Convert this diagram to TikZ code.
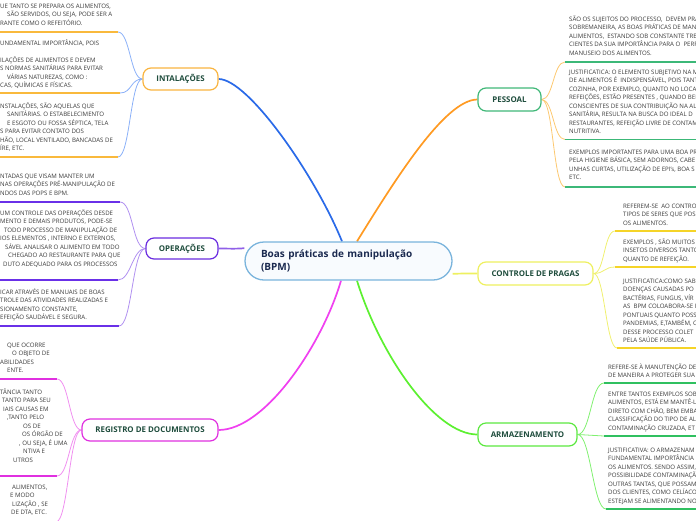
\documentclass[tikz,border=0pt]{standalone}
\usepackage{fontspec}
\setmainfont{Open Sans}
\pgfdeclarelayer{bg}
\pgfsetlayers{bg,main}
\definecolor{leafc}{HTML}{3A3A3A}
\definecolor{topicc}{HTML}{1F4D3D}
\definecolor{centt}{HTML}{1B2A50}
\definecolor{centb}{HTML}{7AB4DC}
\definecolor{centf}{HTML}{F8FBFE}
\definecolor{instb}{HTML}{F9B440}
\definecolor{operb}{HTML}{6A2CE0}
\definecolor{regb}{HTML}{E030E0}
\definecolor{pessb}{HTML}{40B878}
\definecolor{ctrlb}{HTML}{EEF060}
\definecolor{armb}{HTML}{5CE840}
\definecolor{blueM}{HTML}{2A6AE8}
\definecolor{orangeM}{HTML}{FF9A22}
\definecolor{purpleM}{HTML}{9060E8}
\definecolor{magentaM}{HTML}{F040F0}
\definecolor{yellowM}{HTML}{EEF060}
\definecolor{greenM}{HTML}{5CF030}
\definecolor{blueS}{HTML}{8AB0F8}
\definecolor{purpleS}{HTML}{B090F0}
\definecolor{pinkS}{HTML}{F090F0}
\definecolor{orangeS}{HTML}{FCC870}
\definecolor{yellowS}{HTML}{F0F070}
\definecolor{greenS}{HTML}{80F070}
\definecolor{instU}{HTML}{F9B93C}
\definecolor{operU}{HTML}{6A30E8}
\definecolor{regU}{HTML}{E030E0}
\definecolor{pessU}{HTML}{3CB878}
\definecolor{ctrlU}{HTML}{F5D428}
\definecolor{armU}{HTML}{30C060}
\newcommand\leafstrut{\rule{0pt}{6.2pt}}
\begin{document}
\begin{tikzpicture}[x=1pt,y=-1pt,
  leaf/.style={anchor=north west,inner sep=0pt,align=left,text=leafc,font=\fontsize{6.1}{8.5}\selectfont},
  topic/.style={draw,line width=1.2pt,rounded corners=8pt,fill=white,inner sep=0pt,text=topicc,font=\bfseries\fontsize{7.9}{9}\selectfont},
  uline/.style={line width=1.5pt},
  sub/.style={line width=0.8pt},
  mainc/.style={line width=1.7pt}]
\useasboundingbox (0,0) rectangle (696,520);
\clip (0,0) rectangle (696,520);

% central and topics
\node[draw=centb,line width=1.3pt,fill=centf,rounded corners=19pt,minimum width=207pt,minimum height=38pt,text width=175pt,align=left,text=centt,font=\bfseries\fontsize{10}{13.5}\selectfont,inner sep=0pt] (c) at (348.5,261) {Boas práticas de manipulação\\(BPM)};
\node[topic,draw=instb,minimum width=75pt,minimum height=22pt] (inst) at (180.5,79) {INTALAÇÕES};
\node[topic,draw=operb,minimum width=72pt,minimum height=21pt] (oper) at (182,248.5) {OPERAÇÕES};
\node[topic,draw=regb,minimum width=136pt,minimum height=22pt] (reg) at (150,430) {REGISTRO DE DOCUMENTOS};
\node[topic,draw=pessb,minimum width=63pt,minimum height=23pt] (pess) at (509.5,99.5) {PESSOAL};
\node[topic,draw=ctrlb,minimum width=115pt,minimum height=23pt] (ctrl) at (535.5,273.5) {CONTROLE DE PRAGAS};
\node[topic,draw=armb,minimum width=99pt,minimum height=23pt] (arm) at (527.5,434.5) {ARMAZENAMENTO};

% left leaves: INTALACOES
\node[leaf] (i1) at (0,2) {\leafstrut UE TANTO SE PREPARA OS ALIMENTOS,\\\hspace*{7pt}SÃO SERVIDOS, OU SEJA, PODE SER A\\RANTE COMO O REFEITÓRIO.};
\node[leaf] (i2) at (0,39) {\leafstrut UNDAMENTAL IMPORTÂNCIA, POIS\\\mbox{}\\ILAÇÕES DE ALIMENTOS E DEVEM\\S NORMAS SANITÁRIAS PARA EVITAR\\\hspace*{7pt}VÁRIAS NATUREZAS, COMO :\\CAS, QUÍMICAS E FÍSICAS.};
\node[leaf] (i3) at (0,102) {\leafstrut NSTALAÇÕES, SÃO AQUELAS QUE\\\hspace*{7pt}SANITÁRIAS. O ESTABELECIMENTO\\\hspace*{7pt}E ESGOTO OU FOSSA SÉPTICA, TELA\\S PARA EVITAR CONTATO DOS\\HÃO, LOCAL VENTILADO, BANCADAS DE\\ÍRE, ETC.};
\coordinate (i1e) at (118,32);
\coordinate (i2e) at (120,93);
\coordinate (i3e) at (118,157);

% OPERACOES
\node[leaf] (o1) at (0,172) {\leafstrut NTADAS QUE VISAM MANTER UM\\NAS OPERAÇÕES PRÉ-MANIPULAÇÃO DE\\NDOS DAS POPS E BPM.};
\node[leaf] (o2) at (0,209) {\leafstrut UM CONTROLE DAS OPERAÇÕES DESDE\\MENTO E DEMAIS PRODUTOS, PODE-SE\\\hspace*{4pt}TODO PROCESSO DE MANIPULAÇÃO DE\\IOS ELEMENTOS , INTERNO E EXTERNOS,\\\hspace*{5pt}SÁVEL ANALISAR O ALIMENTO EM TODO\\\hspace*{8pt}CHEGADO AO RESTAURANTE PARA QUE\\\hspace*{3pt}DUTO ADEQUADO PARA OS PROCESSOS\\\mbox{}};
\node[leaf] (o3) at (0,288) {\leafstrut ICAR ATRAVÉS DE MANUAIS DE BOAS\\TROLE DAS ATIVIDADES REALIZADAS E\\SIONAMENTO CONSTANTE,\\EFEIÇÃO SAUDÁVEL E SEGURA.};
\coordinate (o1e) at (120,202);
\coordinate (o2e) at (118,280);
\coordinate (o3e) at (119,326);

% REGISTRO
\node[leaf] (r1) at (0,341) {\leafstrut\hspace*{7pt}QUE OCORRE\\\hspace*{12pt}O OBJETO DE\\ABILIDADES\\\hspace*{7pt}ENTE.};
\node[leaf] (r2) at (0,388) {\leafstrut TÂNCIA TANTO\\\hspace*{2pt}TANTO PARA SEU\\\hspace*{3pt}IAIS CAUSAS EM\\\hspace*{7pt},TANTO PELO\\\hspace*{23pt}OS DE\\\hspace*{22pt}OS ÓRGÃO DE\\\hspace*{19pt}, OU SEJA, É UMA\\\hspace*{23pt}NTIVA E\\\hspace*{13pt}UTROS\\\mbox{}};
\node[leaf] (r3) at (0,483) {\leafstrut\hspace*{12pt}ALIMENTOS,\\\hspace*{10pt}E MODO\\\hspace*{12pt}LIZAÇÃO , SE\\\hspace*{11pt}DE DTA, ETC.};
\coordinate (r1e) at (57,379);
\coordinate (r2e) at (57,476);
\coordinate (r3e) at (56,522);

% PESSOAL
\node[leaf] (p1) at (569,15) {\leafstrut SÃO OS SUJEITOS DO PROCESSO,\ \ DEVEM PRA\\SOBREMANEIRA, AS BOAS PRÁTICAS DE MAN\\ALIMENTOS,\ \ ESTANDO SOB CONSTANTE TRE\\CIENTES DA SUA IMPORTÂNCIA PARA O\ \ PERF\\MANUSEIO DOS ALIMENTOS.};
\node[leaf] (p2) at (569,68) {\leafstrut JUSTIFICATICA: O ELEMENTO SUBJETIVO NA M\\DE ALIMENTOS É\ \ INDISPENSÁVEL, POIS TANT\\COZINHA, POR EXEMPLO, QUANTO NO LOCAL\\REFEIÇÕES, ESTÃO PRESENTES , QUANDO BEM\\CONSCIENTES DE SUA CONTRIBUIÇÃO NA AL\\SANITÁRIA, RESULTA NA BUSCA DO IDEAL D\\RESTAURANTES, REFEIÇÃO LIVRE DE CONTAM\\NUTRITIVA.};
\node[leaf] (p3) at (569,148) {\leafstrut EXEMPLOS IMPORTANTES PARA UMA BOA PR\\PELA HIGIENE BÁSICA, SEM ADORNOS, CABE\\UNHAS CURTAS, UTILIZAÇÃO DE EPI's, BOA S\\ETC.};
\coordinate (p1s) at (565,62);
\coordinate (p2s) at (565,139.5);
\coordinate (p3s) at (565,187);

% CONTROLE
\node[leaf] (c1) at (623,202) {\leafstrut REFEREM-SE\ \ AO CONTRO\\TIPOS DE SERES QUE POS\\OS ALIMENTOS.};
\node[leaf] (c2) at (623,238) {\leafstrut EXEMPLOS , SÃO MUITOS\\INSETOS DIVERSOS TANTO\\QUANTO DE REFEIÇÃO.};
\node[leaf] (c3) at (623,277) {\leafstrut JUSTIFICATICA:COMO SAB\\DOENÇAS CAUSADAS PO\\BACTÉRIAS, FUNGUS, VÍR\\AS\ \ BPM COLOABORA-SE I\\PONTUAIS QUANTO POSS\\PANDEMIAS, E,TAMBÉM, C\\DESSE PROCESSO COLET\\PELA SAÚDE PÚBLICA.};
\coordinate (c1s) at (615,231);
\coordinate (c2s) at (615,267);
\coordinate (c3s) at (617,348);

% ARMAZENAMENTO
\node[leaf] (a1) at (608,363) {\leafstrut REFERE-SE À MANUTENÇÃO DE\\DE MANEIRA A PROTEGER SUA};
\node[leaf] (a2) at (608,390) {\leafstrut ENTRE TANTOS EXEMPLOS SOB\\ALIMENTOS, ESTÁ EM MANTÊ-L\\DIRETO COM CHÃO, BEM EMBA\\CLASSIFICAÇÃO DO TIPO DE AL\\CONTAMINAÇÃO CRUZADA, ET};
\node[leaf] (a3) at (608,446) {\leafstrut JUSTIFICATIVA: O ARMAZENAM\\FUNDAMENTAL IMPORTÂNCIA\\OS ALIMENTOS. SENDO ASSIM,\\POSSIBILIDADE CONTAMINAÇÃ\\OUTRAS TANTAS, QUE POSSAM\\DOS CLIENTES, COMO CELÍACO\\ESTEJAM SE ALIMENTANDO NO};
\coordinate (a1s) at (604,383);
\coordinate (a2s) at (604,436);
\coordinate (a3s) at (606,509);

% underlines
\draw[uline,instU] (-5,32) -- (i1e);
\draw[uline,instU] (-5,93) -- (i2e);
\draw[uline,instU] (-5,157) -- (i3e);
\draw[uline,operU] (-5,202) -- (o1e);
\draw[uline,operU] (-5,280) -- (o2e);
\draw[uline,operU] (-5,326) -- (o3e);
\draw[uline,regU] (-5,379) -- (r1e);
\draw[uline,regU] (-5,476) -- (r2e);
\draw[uline,regU] (-5,522) -- (r3e);
\draw[uline,pessU] (p1s) -- (705,62);
\draw[uline,pessU] (p2s) -- (705,139.5);
\draw[uline,pessU] (p3s) -- (705,187);
\draw[uline,ctrlU] (c1s) -- (705,231);
\draw[uline,ctrlU] (c2s) -- (705,267);
\draw[uline,ctrlU] (c3s) -- (705,348);
\draw[uline,armU] (a1s) -- (705,383);
\draw[uline,armU] (a2s) -- (705,436);
\draw[uline,armU] (a3s) -- (705,509);

\begin{pgfonlayer}{bg}
% main connectors
\draw[mainc,blueM] ([xshift=-6.5pt]c.north) .. controls (315,175) and (248,79) .. (inst.east);
\draw[mainc,orangeM] ([xshift=8.5pt]c.north) .. controls (395,180) and (445,99.5) .. (pess.west);
\draw[mainc,purpleM] (c.173) .. controls (235,249) and (228,248.5) .. (oper.east);
\draw[mainc,magentaM] ([xshift=-7.5pt]c.south) .. controls (322,345) and (265,430) .. (reg.east);
\draw[mainc,yellowM] (c.-7) .. controls (462,273.5) and (468,273.5) .. (ctrl.west);
\draw[mainc,greenM] ([xshift=8.5pt]c.south) .. controls (380,355) and (435,434.5) .. (arm.west);
% sub connectors
\draw[sub,blueS] (inst.west) .. controls +(-12,0) and +(12,0) .. (i1e);
\draw[sub,blueS] (inst.west) .. controls +(-12,0) and +(12,0) .. (i2e);
\draw[sub,blueS] (inst.west) .. controls +(-12,0) and +(12,0) .. (i3e);
\draw[sub,purpleS] (oper.west) .. controls +(-13,0) and +(13,0) .. (o1e);
\draw[sub,purpleS] (oper.west) .. controls +(-13,0) and +(13,0) .. (o2e);
\draw[sub,purpleS] (oper.west) .. controls +(-13,0) and +(13,0) .. (o3e);
\draw[sub,pinkS] (reg.west) .. controls +(-12,0) and +(12,0) .. (r1e);
\draw[sub,pinkS] (reg.west) .. controls +(-12,0) and +(12,0) .. (r2e);
\draw[sub,pinkS] (reg.west) .. controls +(-12,0) and +(12,0) .. (r3e);
\draw[sub,orangeS] (pess.east) .. controls +(12,0) and +(-12,0) .. (p1s);
\draw[sub,orangeS] (pess.east) .. controls +(12,0) and +(-12,0) .. (p2s);
\draw[sub,orangeS] (pess.east) .. controls +(12,0) and +(-12,0) .. (p3s);
\draw[sub,yellowS] (ctrl.east) .. controls +(11,0) and +(-11,0) .. (c1s);
\draw[sub,yellowS] (ctrl.east) .. controls +(11,0) and +(-11,0) .. (c2s);
\draw[sub,yellowS] (ctrl.east) .. controls +(11,0) and +(-11,0) .. (c3s);
\draw[sub,greenS] (arm.east) .. controls +(13,0) and +(-13,0) .. (a1s);
\draw[sub,greenS] (arm.east) .. controls +(13,0) and +(-13,0) .. (a2s);
\draw[sub,greenS] (arm.east) .. controls +(13,0) and +(-13,0) .. (a3s);
\end{pgfonlayer}
\end{tikzpicture}
\end{document}
